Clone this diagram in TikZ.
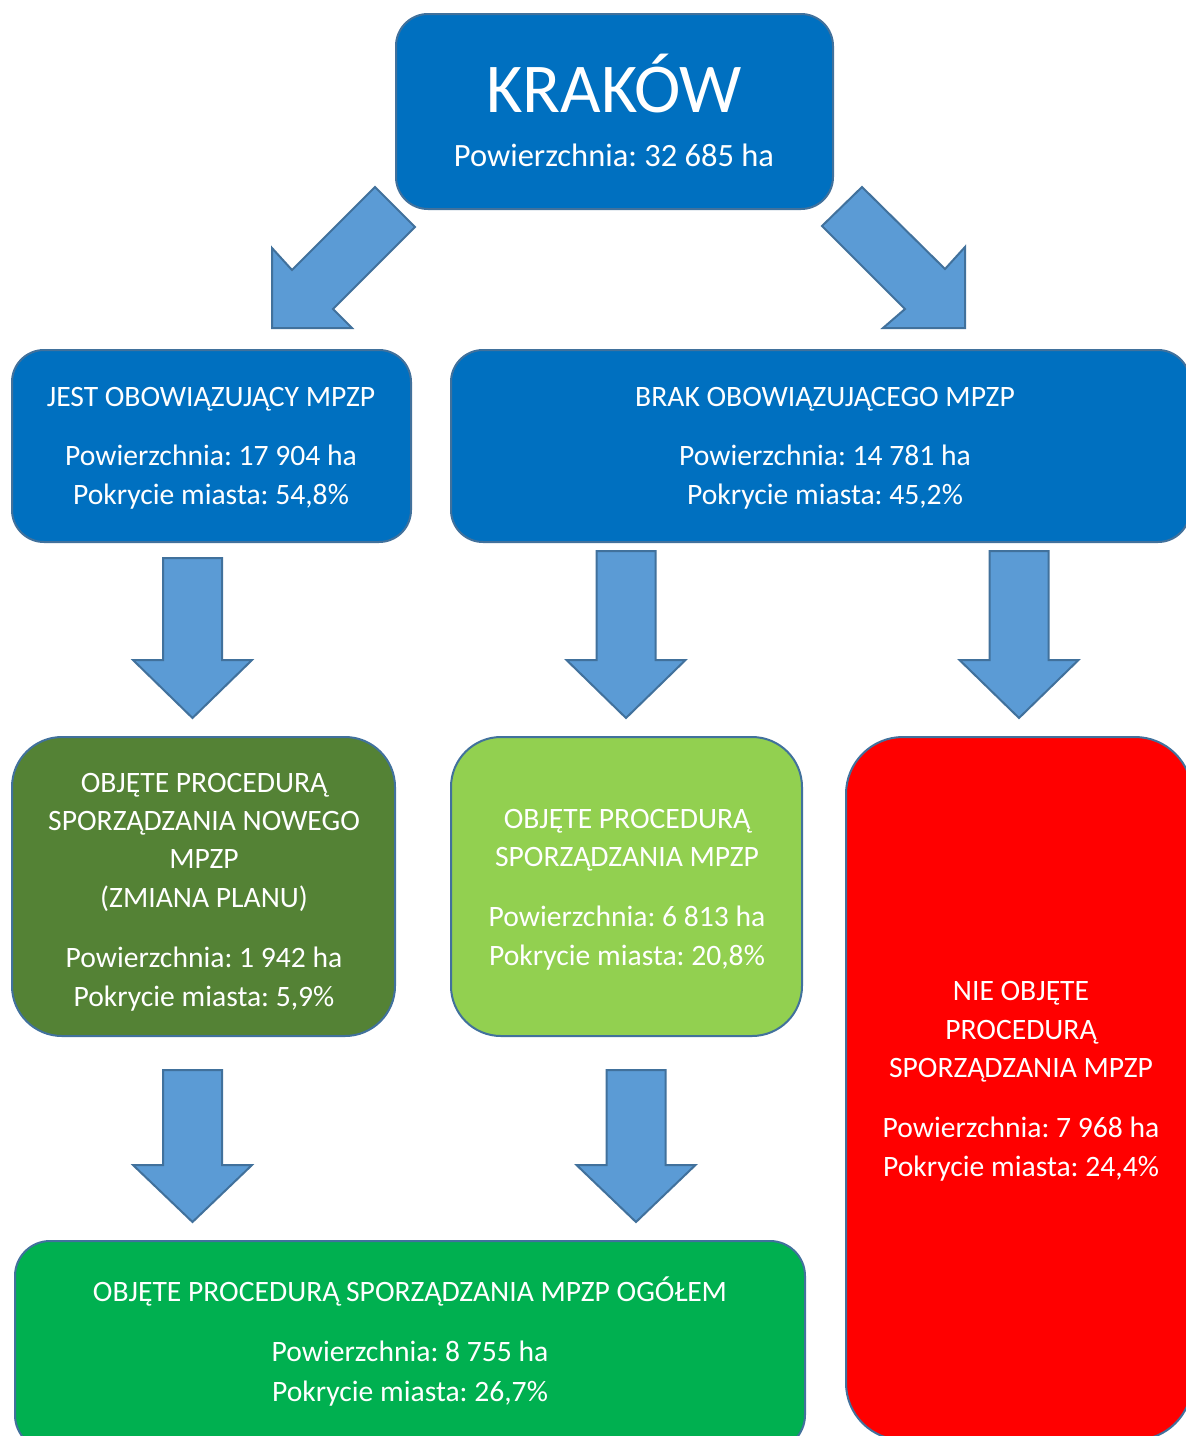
\documentclass[tikz,border=0pt]{standalone}
\usepackage{fontspec}
\setmainfont{Carlito}
\frenchspacing
\definecolor{boxblue}{HTML}{0070C0}
\definecolor{edgeblue}{HTML}{41719C}
\definecolor{arrowblue}{HTML}{5B9BD5}
\definecolor{dgreen}{HTML}{548235}
\definecolor{lgreen}{HTML}{92D050}
\definecolor{bgreen}{HTML}{00B050}
\definecolor{redbox}{HTML}{FF0000}
\tikzset{
  box/.style={draw=edgeblue, line width=2pt, rectangle, inner sep=0pt},
  txt/.style={text=white, font=\fontsize{29.6}{35}\selectfont, anchor=base, inner sep=0pt},
  arrowshape/.style={fill=arrowblue, draw=edgeblue, line width=2pt, line join=miter},
}
\newcommand\blockdown[4]{%
  \draw[arrowshape] (#1-29.5,#2) -- (#1+29.5,#2) -- (#1+29.5,#3) -- (#1+59.5,#3)
    -- (#1,#4) -- (#1-59.5,#3) -- (#1-29.5,#3) -- cycle;}
\begin{document}
\begin{tikzpicture}[x=1pt,y=-1pt]
\clip (0,0) rectangle (1186,1436);
\fill[white] (0,0) rectangle (1186,1436);

% boxes
\node[box, fill=boxblue, rounded corners=32pt, minimum width=437pt, minimum height=195pt] (krakow) at (614.5,111.5) {};
\node[box, fill=boxblue, rounded corners=32pt, minimum width=399pt, minimum height=192pt] (jest) at (211.5,446) {};
\node[box, fill=boxblue, rounded corners=32pt, minimum width=739pt, minimum height=192pt] (brak) at (820.5,446) {};
\node[box, fill=dgreen, rounded corners=50pt, minimum width=383pt, minimum height=299pt] (nowy) at (203.5,886.5) {};
\node[box, fill=lgreen, rounded corners=50pt, minimum width=351pt, minimum height=299pt] (sporz) at (626.5,886.5) {};
\node[box, fill=redbox, rounded corners=57pt, minimum width=346pt, minimum height=703pt] (nie) at (1019,1088.5) {};
\node[box, fill=bgreen, rounded corners=35pt, minimum width=790pt, minimum height=209pt] (ogol) at (410,1345.5) {};

% arrows
\draw[arrowshape] (375,187) -- (415,227) -- (333,309) -- (352,328) -- (272,328) -- (272,248) -- (292,270) -- cycle;
\draw[arrowshape] (862,187) -- (945,269) -- (965,247) -- (965,328) -- (883,328) -- (905,309) -- (822,226) -- cycle;
\blockdown{192.5}{558}{660}{718}
\blockdown{626}{551}{660}{718}
\blockdown{1019}{551}{660}{718}
\blockdown{192.5}{1070}{1165}{1222}
\blockdown{636}{1070}{1165}{1222}

% texts
\node[txt, font=\fontsize{70}{80}\selectfont] (k1) at (614,112) {KRAKÓW};
\node[txt, font=\fontsize{32.5}{38}\selectfont] (k2) at (614,166) {Powierzchnia: 32 685 ha};

\node[txt] (j1) at (211,406) {JEST OBOWIĄZUJĄCY MPZP};
\node[txt] (j2) at (211,465) {Powierzchnia: 17 904 ha};
\node[txt] (j3) at (211,504) {Pokrycie miasta: 54,8\%};

\node[txt] (b1) at (825,406) {BRAK OBOWIĄZUJĄCEGO MPZP};
\node[txt] (b2) at (825,465) {Powierzchnia: 14 781 ha};
\node[txt] (b3) at (825,504) {Pokrycie miasta: 45,2\%};

\node[txt] (n1) at (204,792) {OBJĘTE PROCEDURĄ};
\node[txt] (n2) at (204,830) {SPORZĄDZANIA NOWEGO};
\node[txt] (n3) at (204,868) {MPZP};
\node[txt] (n4) at (204,907) {(ZMIANA PLANU)};
\node[txt] (n5) at (204,967) {Powierzchnia: 1 942 ha};
\node[txt] (n6) at (204,1006) {Pokrycie miasta: 5,9\%};

\node[txt] (s1) at (627,828) {OBJĘTE PROCEDURĄ};
\node[txt] (s2) at (627,866) {SPORZĄDZANIA MPZP};
\node[txt] (s3) at (627,926) {Powierzchnia: 6 813 ha};
\node[txt] (s4) at (627,965) {Pokrycie miasta: 20,8\%};

\node[txt] (r1) at (1021,1000) {NIE OBJĘTE};
\node[txt] (r2) at (1021,1039) {PROCEDURĄ};
\node[txt] (r3) at (1021,1077) {SPORZĄDZANIA MPZP};
\node[txt] (r4) at (1021,1137) {Powierzchnia: 7 968 ha};
\node[txt] (r5) at (1021,1176) {Pokrycie miasta: 24,4\%};

\node[txt] (o1) at (410,1301) {OBJĘTE PROCEDURĄ SPORZĄDZANIA MPZP OGÓŁEM};
\node[txt] (o2) at (410,1361) {Powierzchnia: 8 755 ha};
\node[txt] (o3) at (410,1401) {Pokrycie miasta: 26,7\%};
\end{tikzpicture}
\end{document}
